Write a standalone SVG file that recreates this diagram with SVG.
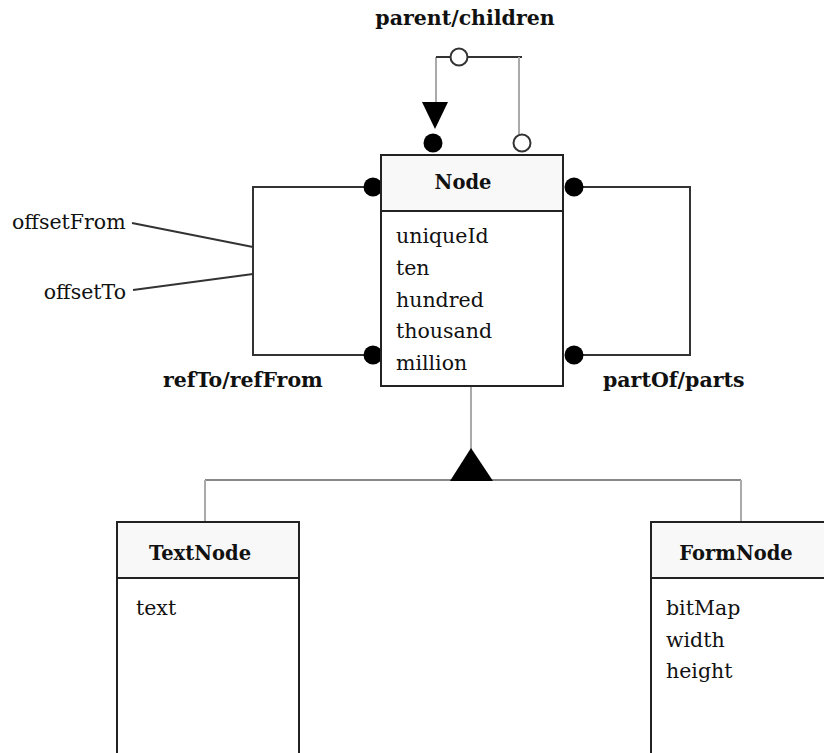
<svg xmlns="http://www.w3.org/2000/svg" width="824" height="753" viewBox="0 0 824 753">
<style>
.box{fill:#ffffff;stroke:#222;stroke-width:2}
.hdr{fill:#f8f8f8;stroke:#222;stroke-width:2}
.title{font-family:"DejaVu Serif",serif;font-weight:bold;font-size:19.5px;fill:#111;text-anchor:middle}
.attr{font-family:"DejaVu Serif",serif;font-size:20.5px;fill:#111}
.lbl{font-family:"DejaVu Serif",serif;font-weight:bold;font-size:20.5px;fill:#111}
.ln{fill:none;stroke:#333;stroke-width:2}
.gl{fill:none;stroke:#aaa;stroke-width:2}
.gh{fill:none;stroke:#888;stroke-width:2}
.dot{fill:#000}
.odot{fill:#fff;stroke:#333;stroke-width:2}
</style>
<rect width="824" height="753" fill="#fff"/>
<g id="connectors">
  <path class="gl" d="M436,57 L436,104"/>
  <path class="ln" d="M436,57 L522,57"/>
  <path class="gl" d="M519,57 L519,134"/>
  <polygon class="dot" points="422,102 448,102 435,129"/>
  <circle class="dot" cx="433" cy="143" r="9.5"/>
  <circle class="odot" cx="459" cy="57" r="8.5"/>
  <circle class="odot" cx="522" cy="143" r="8.5"/>
  <path class="ln" d="M372,187 L253,187 L253,355 L372,355"/>
  <circle class="dot" cx="373" cy="187" r="9.5"/>
  <circle class="dot" cx="373" cy="355" r="9.5"/>
  <path class="ln" d="M575,187 L690,187 L690,355 L575,355"/>
  <circle class="dot" cx="574" cy="187" r="9.5"/>
  <circle class="dot" cx="574" cy="355" r="9.5"/>
  <path class="ln" d="M132,223 L253,247"/>
  <path class="ln" d="M133,290 L253,274"/>
  <path class="gl" d="M471,386 L471,450"/>
  <path class="gh" d="M205,480 L741,480"/>
  <path class="gl" d="M205,480 L205,522"/>
  <path class="gl" d="M741,480 L741,522"/>
  <polygon class="dot" points="471,448 450,481 493,481"/>
  <text class="lbl" x="465" y="25" text-anchor="middle">parent/children</text>
  <text class="lbl" x="163" y="387">refTo/refFrom</text>
  <text class="lbl" x="603" y="387">partOf/parts</text>
  <text class="attr" x="12" y="229">offsetFrom</text>
  <text class="attr" x="126" y="299" text-anchor="end">offsetTo</text>
</g>
<g id="Node">
  <rect class="box" x="381" y="155" width="182" height="231"/>
  <rect class="hdr" x="381" y="155" width="182" height="56"/>
  <text class="title" x="463" y="189">Node</text>
  <text class="attr" x="396" y="243">uniqueId</text>
  <text class="attr" x="396" y="275">ten</text>
  <text class="attr" x="396" y="307">hundred</text>
  <text class="attr" x="396" y="338">thousand</text>
  <text class="attr" x="396" y="370">million</text>
</g>
<g id="TextNode">
  <rect class="box" x="117" y="522" width="182" height="240"/>
  <rect class="hdr" x="117" y="522" width="182" height="56"/>
  <text class="title" x="200" y="560">TextNode</text>
  <text class="attr" x="136" y="615">text</text>
</g>
<g id="FormNode">
  <rect class="box" x="651" y="522" width="190" height="240"/>
  <rect class="hdr" x="651" y="522" width="190" height="56"/>
  <text class="title" x="736" y="560">FormNode</text>
  <text class="attr" x="666" y="615">bitMap</text>
  <text class="attr" x="666" y="647">width</text>
  <text class="attr" x="666" y="678">height</text>
</g>
</svg>
